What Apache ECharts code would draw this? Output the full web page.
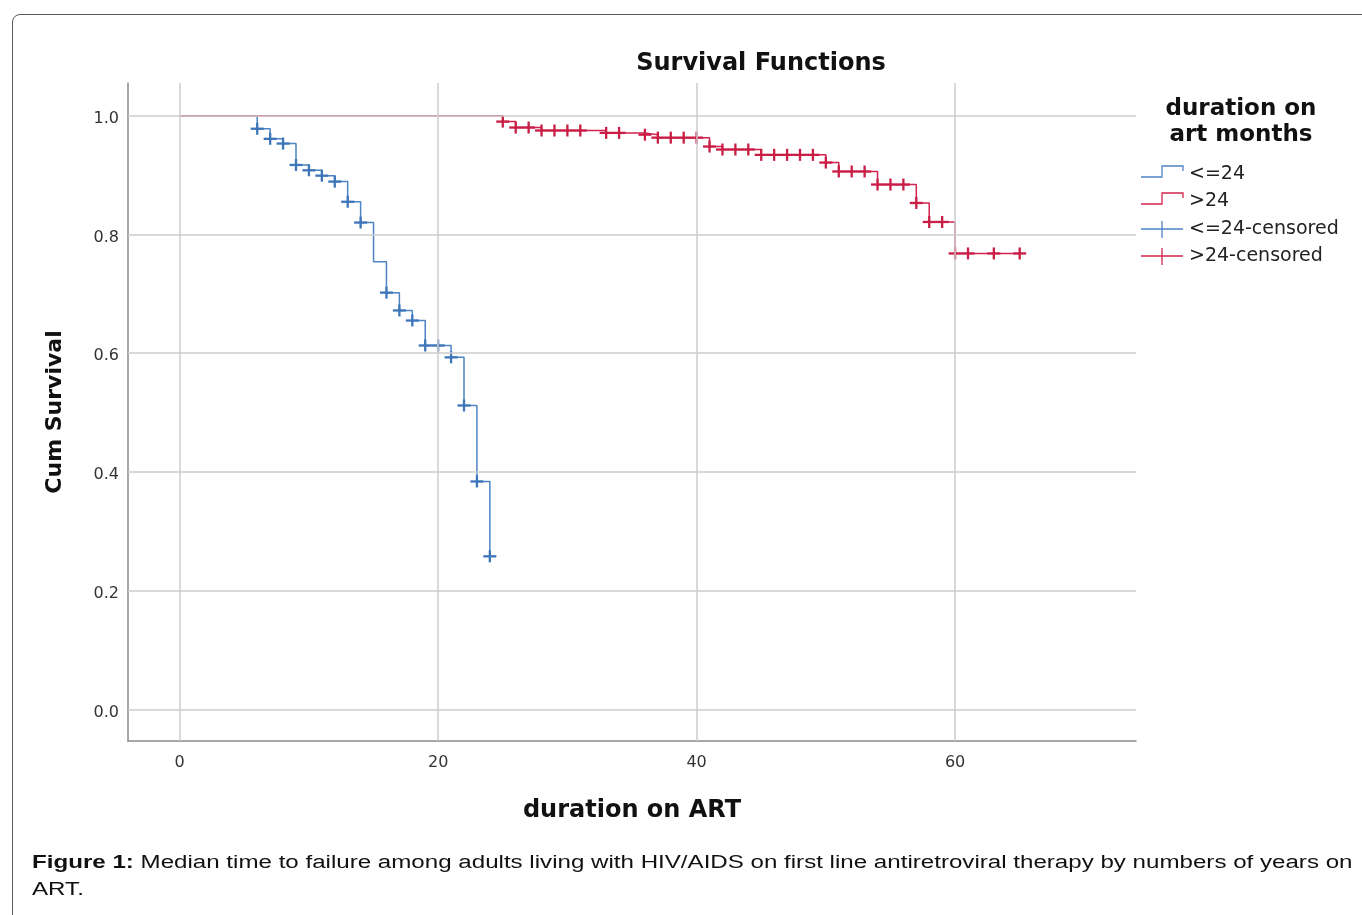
<!DOCTYPE html>
<html>
<head>
<meta charset="utf-8">
<script src="https://cdn.jsdelivr.net/npm/echarts@6/dist/echarts.min.js"></script>
<style>
  html, body { margin: 0; padding: 0; background: #fff; }
  #frame {
    position: absolute; left: 12px; top: 14px; width: 1400px; height: 1000px;
    border: 1.5px solid #5a5a5a; border-radius: 8px; box-sizing: border-box;
  }
  #chart { position: absolute; left: 0; top: 0; width: 1362px; height: 915px; }
  #caption {
    position: absolute; left: 32px; top: 849px; white-space: nowrap;
    font-family: "Liberation Sans", Arial, sans-serif; font-size: 18px; line-height: 27px;
    color: #111; transform: scaleX(1.34); transform-origin: 0 0;
  }
</style>
</head>
<body>
<div id="frame"></div>
<div id="chart"></div>
<div id="caption"><b>Figure 1:</b> Median time to failure among adults living with HIV/AIDS on first line antiretroviral therapy by numbers of years on<br>ART.</div>
<script>
// Kaplan-Meier steps
const lowTimes = [0, 6, 7, 8, 9, 10, 11, 12, 13, 14, 15, 16, 17, 18, 19, 21, 22, 23, 24];
const lowSurv = [1.0, 0.978, 0.961, 0.953, 0.917, 0.908, 0.899, 0.889, 0.855, 0.820, 0.754, 0.702, 0.672, 0.655, 0.613, 0.593, 0.512, 0.384, 0.258];
const lowCensored = [6, 7, 8, 9, 10, 11, 12, 13, 14, 16, 17, 18, 19, 20, 21, 22, 23, 24];

const highTimes = [0, 25, 26, 28, 33, 36, 37, 41, 42, 45, 50, 51, 54, 57, 58, 60, 65];
const highSurv = [1.0, 0.990, 0.980, 0.975, 0.971, 0.968, 0.963, 0.948, 0.943, 0.934, 0.921, 0.906, 0.884, 0.853, 0.821, 0.768, 0.768];
const highCensored = [25, 26, 27, 28, 29, 30, 31, 33, 34, 36, 37, 38, 39, 40, 41, 42, 43, 44, 45, 46, 47, 48, 49, 50, 51, 52, 53, 54, 55, 56, 57, 58, 59, 60, 61, 63, 65];

const xTicks = [0, 20, 40, 60];
const yTicks = [0.0, 0.2, 0.4, 0.6, 0.8, 1.0];

const BLUE = '#4d84c4';
const BLUE_MARK = '#3d75ba';
const RED = '#d2244d';
const RED_MARK = '#c91d45';
const FONT = 'DejaVu Sans';

function survAt(times, surv, t) {
    let s = surv[0];
    for (let i = 0; i < times.length; i++) {
        if (times[i] <= t) s = surv[i];
    }
    return s;
}

function pairs(times, surv) {
    return times.map((t, i) => [t, surv[i]]);
}

function censorData(cens, times, surv) {
    return cens.map(t => [t, survAt(times, surv, t)]);
}

function crossRenderer(color) {
    return function (params, api) {
        const p = api.coord([api.value(0), api.value(1)]);
        const style = {stroke: color, lineWidth: 2.3};
        return {
            type: 'group',
            children: [
                {type: 'line', shape: {x1: p[0] - 6.5, y1: p[1], x2: p[0] + 6.5, y2: p[1]}, style: style},
                {type: 'line', shape: {x1: p[0], y1: p[1] - 6, x2: p[0], y2: p[1] + 6}, style: style}
            ]
        };
    };
}

const gridLines = xTicks.map(v => ({xAxis: v})).concat(yTicks.map(v => ({yAxis: v})));

const chart = echarts.init(document.getElementById('chart'), null, {renderer: 'canvas'});

const legendX = 1141;
const legendLabelX = 1189;
const legendRows = [174, 201, 229, 256];
const legendLabels = ['<=24', '>24', '<=24-censored', '>24-censored'];
const legendColors = [BLUE, RED, BLUE, RED];

const legendGraphics = [];
legendRows.forEach((y, i) => {
    if (i < 2) {
        legendGraphics.push({
            type: 'polyline',
            shape: {points: [[legendX, y + 3], [legendX + 21, y + 3], [legendX + 21, y - 8], [legendX + 42, y - 8], [legendX + 42, y - 3]]},
            style: {stroke: legendColors[i], lineWidth: 1.3, fill: null}
        });
    } else {
        legendGraphics.push({
            type: 'line',
            shape: {x1: legendX, y1: y, x2: legendX + 42, y2: y},
            style: {stroke: legendColors[i], lineWidth: 1.3}
        });
        legendGraphics.push({
            type: 'line',
            shape: {x1: legendX + 21, y1: y - 8, x2: legendX + 21, y2: y + 9},
            style: {stroke: legendColors[i], lineWidth: 1.3}
        });
    }
    legendGraphics.push({
        type: 'text',
        style: {
            text: legendLabels[i], x: legendLabelX, y: y,
            font: '19px "' + FONT + '"', fill: '#222', textVerticalAlign: 'middle'
        }
    });
});
legendGraphics.push({
    type: 'text',
    style: {
        text: 'duration on\nart months', x: 1241, y: 96,
        font: 'bold 23px "' + FONT + '"', fill: '#111', textAlign: 'center', lineHeight: 26
    }
});

chart.setOption({
    animation: false,
    backgroundColor: 'transparent',
    title: {
        text: 'Survival Functions',
        left: 761, top: 52, textAlign: 'center', padding: 0,
        textStyle: {fontFamily: FONT, fontWeight: 'bold', fontSize: 24, color: '#111'}
    },
    grid: {left: 128, right: 226, top: 83, bottom: 174, containLabel: false},
    xAxis: {
        type: 'value', min: -4, max: 74,
        name: 'duration on ART', nameLocation: 'middle', nameGap: 58,
        nameTextStyle: {fontFamily: FONT, fontWeight: 'bold', fontSize: 24, color: '#111'},
        axisLine: {onZero: false, lineStyle: {color: '#8a8a8a', width: 1.5}},
        axisTick: {show: false},
        splitLine: {show: false},
        axisLabel: {
            customValues: xTicks, margin: 14,
            fontFamily: FONT, fontSize: 16, color: '#333',
            formatter: v => xTicks.indexOf(v) >= 0 ? String(v) : ''
        }
    },
    yAxis: {
        type: 'value', min: -0.053, max: 1.055,
        name: 'Cum Survival', nameLocation: 'middle', nameGap: 62,
        nameTextStyle: {fontFamily: FONT, fontWeight: 'bold', fontSize: 22, color: '#111'},
        axisLine: {show: true, onZero: false, lineStyle: {color: '#8a8a8a', width: 1.5}},
        axisTick: {show: false},
        splitLine: {show: false},
        axisLabel: {
            customValues: yTicks, margin: 9, verticalAlign: 'top', lineHeight: 6,
            fontFamily: FONT, fontSize: 16, color: '#333',
            formatter: v => yTicks.some(t => Math.abs(t - v) < 1e-6) ? v.toFixed(1) : ''
        }
    },
    graphic: legendGraphics,
    series: [
        {
            type: 'line', data: [], z: 1, silent: true,
            markLine: {
                silent: true, symbol: ['none', 'none'], label: {show: false},
                lineStyle: {color: '#cdcdcd', width: 1.5, type: 'solid'},
                data: gridLines
            }
        },
        {
            name: '<=24', type: 'line', step: 'end', z: 3,
            data: pairs(lowTimes, lowSurv),
            showSymbol: false, lineStyle: {color: BLUE, width: 1.5}
        },
        {
            name: '>24', type: 'line', step: 'end', z: 3,
            data: pairs(highTimes, highSurv),
            showSymbol: false, lineStyle: {color: RED, width: 1.5}
        },
        {
            name: '<=24-censored', type: 'custom', z: 4,
            renderItem: crossRenderer(BLUE_MARK),
            data: censorData(lowCensored, lowTimes, lowSurv)
        },
        {
            name: '>24-censored', type: 'custom', z: 4,
            renderItem: crossRenderer(RED_MARK),
            data: censorData(highCensored, highTimes, highSurv)
        }
    ]
});
</script>
</body>
</html>
